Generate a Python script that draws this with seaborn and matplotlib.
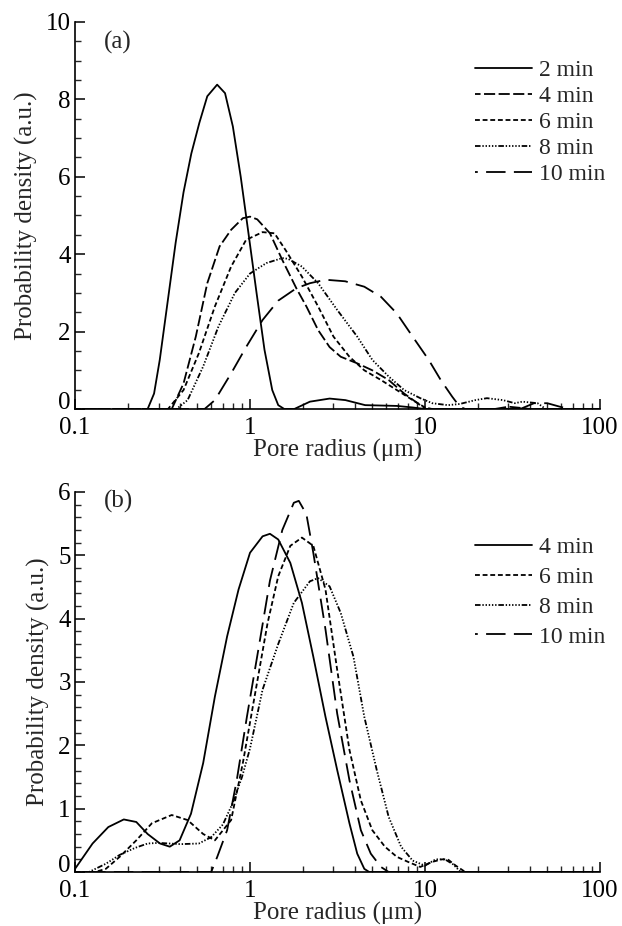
import numpy as np
import pandas as pd
import matplotlib
matplotlib.use("Agg")
import matplotlib.pyplot as plt
import seaborn as sns
from matplotlib.ticker import (FixedLocator, FixedFormatter, MultipleLocator,
                               NullFormatter, LogLocator, FuncFormatter)

# ---------------- panel (a) ----------------
a_2min_x = [0.26, 0.283, 0.305, 0.339, 0.376, 0.417, 0.462, 0.514, 0.57, 0.649, 0.72, 0.798,
            0.885, 0.98, 1.09, 1.21, 1.34, 1.45, 1.57, 1.79, 2.2, 2.85, 3.51, 4.55, 6.9, 8.5, 10.0, 100.0]
a_2min_y = [0.0, 0.4, 1.27, 2.8, 4.3, 5.6, 6.6, 7.4, 8.08, 8.38, 8.16, 7.3,
            6.0, 4.54, 3.0, 1.53, 0.49, 0.1, 0.0, 0.0, 0.19, 0.27, 0.23, 0.1, 0.08, 0.04, 0.0, 0.0]

a_4min_x = [0.1, 0.357, 0.417, 0.49, 0.57, 0.67, 0.78, 0.91, 1.0, 1.1, 1.3, 1.53, 1.84, 2.1,
            2.45, 2.85, 3.3, 4.1, 5.0, 6.2, 7.6, 9.4, 10.1, 25.0, 30.0, 35.0, 40.0]
a_4min_y = [0.0, 0.0, 0.66, 1.87, 3.25, 4.2, 4.63, 4.93, 4.97, 4.9, 4.54, 3.85, 3.12, 2.65,
            2.04, 1.6, 1.35, 1.18, 1.0, 0.75, 0.4, 0.1, 0.0, 0.0, 0.06, 0.03, 0.0]

a_6min_x = [0.1, 0.34, 0.417, 0.51, 0.63, 0.78, 0.95, 1.18, 1.38, 1.6, 1.98, 2.45, 3.0, 3.7,
            4.5, 5.6, 6.9, 8.5, 10.0, 11.0, 100.0]
a_6min_y = [0.0, 0.0, 0.49, 1.44, 2.65, 3.68, 4.37, 4.57, 4.54, 4.1, 3.42, 2.65, 1.87, 1.35,
            1.0, 0.75, 0.49, 0.23, 0.04, 0.0, 0.0]

a_8min_x = [0.1, 0.38, 0.44, 0.54, 0.66, 0.82, 1.0, 1.24, 1.53, 1.65, 1.98, 2.45, 3.15, 4.1,
            5.0, 6.2, 7.6, 9.4, 11.0, 13.5, 15.8, 19.4, 22.6, 27.9, 32.6, 36.0, 44.0, 49.0, 100.0]
a_8min_y = [0.0, 0.0, 0.23, 1.1, 2.13, 3.0, 3.5, 3.77, 3.9, 3.88, 3.68, 3.25, 2.56, 1.87,
            1.27, 0.84, 0.49, 0.28, 0.15, 0.1, 0.13, 0.23, 0.28, 0.23, 0.15, 0.19, 0.15, 0.0, 0.0]

a_10min_x = [0.1, 0.55, 0.63, 0.78, 0.95, 1.18, 1.45, 1.84, 2.2, 2.7, 3.5, 4.5, 5.6, 6.9, 8.5,
             10.5, 12.3, 14.3, 15.8, 17.0, 35.0, 42.0, 50.0, 60.0, 70.0, 100.0]
a_10min_y = [0.0, 0.0, 0.23, 0.92, 1.6, 2.3, 2.8, 3.12, 3.25, 3.34, 3.3, 3.16, 2.9, 2.47, 1.87,
             1.27, 0.75, 0.32, 0.06, 0.0, 0.0, 0.15, 0.15, 0.05, 0.0, 0.0]

# ---------------- panel (b) ----------------
b_4min_x = [0.1, 0.126, 0.155, 0.19, 0.224, 0.26, 0.306, 0.348, 0.396, 0.46, 0.54, 0.63, 0.74,
            0.86, 1.0, 1.18, 1.3, 1.45, 1.7, 1.98, 2.3, 2.7, 3.15, 3.7, 4.1, 4.5, 4.8, 100.0]
b_4min_y = [0.05, 0.45, 0.71, 0.83, 0.79, 0.6, 0.45, 0.4, 0.5, 0.92, 1.72, 2.77, 3.72,
            4.46, 5.04, 5.3, 5.34, 5.25, 4.88, 4.25, 3.4, 2.45, 1.61, 0.77, 0.29, 0.05, 0.0, 0.0]

b_6min_x = [0.1, 0.13, 0.15, 0.18, 0.224, 0.275, 0.357, 0.44, 0.54, 0.63, 0.78, 0.91, 1.07, 1.26,
            1.45, 1.7, 1.98, 2.3, 2.7, 3.15, 3.7, 4.3, 5.0, 5.9, 6.9, 8.0, 9.4, 11.0, 12.5,
            13.5, 15.0, 17.0, 100.0]
b_6min_y = [0.0, 0.0, 0.05, 0.24, 0.5, 0.77, 0.9, 0.82, 0.6, 0.5, 0.82, 1.72, 2.82, 3.93,
            4.67, 5.15, 5.28, 5.15, 4.46, 3.19, 1.93, 1.13, 0.66, 0.4, 0.24, 0.16, 0.08, 0.16, 0.2,
            0.2, 0.1, 0.0, 0.0]

b_8min_x = [0.1, 0.12, 0.15, 0.18, 0.22, 0.26, 0.3, 0.4, 0.51, 0.6, 0.7, 0.8, 0.9, 1.0, 1.18,
            1.45, 1.78, 2.2, 2.45, 2.85, 3.3, 3.9, 4.5, 5.3, 6.2, 7.3, 8.5, 10.0, 11.5, 13.0,
            14.5, 16.0, 100.0]
b_8min_y = [0.0, 0.0, 0.13, 0.27, 0.38, 0.45, 0.46, 0.44, 0.45, 0.55, 0.75, 1.1, 1.5, 1.95, 2.88,
            3.6, 4.25, 4.59, 4.64, 4.51, 4.09, 3.4, 2.45, 1.61, 0.87, 0.4, 0.18, 0.1, 0.2, 0.2,
            0.12, 0.0, 0.0]

b_10min_x = [0.1, 0.6, 0.65, 0.74, 0.84, 0.96, 1.13, 1.3, 1.53, 1.78, 1.9, 2.1, 2.3, 2.7, 3.15,
             3.7, 4.3, 4.9, 5.6, 6.2, 100.0]
b_10min_y = [0.0, 0.0, 0.24, 0.66, 1.45, 2.45, 3.6, 4.6, 5.4, 5.83, 5.86, 5.65, 5.04, 3.83, 2.5,
             1.45, 0.66, 0.29, 0.08, 0.0, 0.0]

labels_a = ["2 min", "4 min", "6 min", "8 min", "10 min"]
labels_b = ["4 min", "6 min", "8 min", "10 min"]

# dash patterns in points (offset, on/off sequence)
DOTTED_LONG = (4, 1.3, 1, 1.3, 1, 1.3, 1, 1.3, 1, 1.3, 1, 1.3)
styles_a = {
    "2 min": None,
    "4 min": (4, (8, 2.5)),
    "6 min": (0, (3.5, 2.0)),
    "8 min": (0, DOTTED_LONG),
    "10 min": (12, (14, 6)),
}
styles_b = {
    "4 min": None,
    "6 min": (0, (3.5, 2.0)),
    "8 min": (0, DOTTED_LONG),
    "10 min": (12, (14, 6)),
}


def build_frame(series):
    frames = []
    for name, xs, ys in series:
        frames.append(pd.DataFrame({"radius": xs, "density": ys, "time": name}))
    return pd.concat(frames, ignore_index=True)


df_a = build_frame([
    ("2 min", a_2min_x, a_2min_y),
    ("4 min", a_4min_x, a_4min_y),
    ("6 min", a_6min_x, a_6min_y),
    ("8 min", a_8min_x, a_8min_y),
    ("10 min", a_10min_x, a_10min_y),
])
df_b = build_frame([
    ("4 min", b_4min_x, b_4min_y),
    ("6 min", b_6min_x, b_6min_y),
    ("8 min", b_8min_x, b_8min_y),
    ("10 min", b_10min_x, b_10min_y),
])

sns.set_theme(style="ticks")
plt.rcParams["font.family"] = ["Liberation Serif", "DejaVu Serif"]
plt.rcParams["lines.scale_dashes"] = False

FS_TICK = 18
FS_LABEL = 18
FS_LEG = 17

fig = plt.figure(figsize=(6.22, 9.26), dpi=100)
ax_a = fig.add_axes([0.1206, 0.5583, 0.844, 0.418])
ax_b = fig.add_axes([0.1206, 0.0583, 0.844, 0.4104])


def y_tick_text(v, pos):
    # the origin "0" is written separately, slightly raised above the x labels
    return "" if abs(v) < 1e-9 else f"{v:g}"


def draw_panel(ax, df, labels, styles, ymax, ymajor, yminor, tag, tag_y,
               leg_top, label_spacing):
    for name in labels:
        sub = df[df["time"] == name]
        sns.lineplot(data=sub, x="radius", y="density", color="black",
                     linewidth=1.3, sort=False, estimator=None, ax=ax, label=name)
        line = ax.get_lines()[-1]
        if styles[name] is None:
            line.set_linestyle("-")
        else:
            line.set_linestyle(styles[name])
    ax.set_xscale("log")
    ax.set_xlim(0.1, 100)
    ax.set_ylim(0, ymax)
    ax.xaxis.set_major_locator(FixedLocator([0.1, 1, 10, 100]))
    ax.xaxis.set_major_formatter(FixedFormatter(["0.1", "1", "10", "100"]))
    ax.xaxis.set_minor_locator(LogLocator(base=10, subs=np.arange(2, 10), numticks=20))
    ax.xaxis.set_minor_formatter(NullFormatter())
    ax.yaxis.set_major_locator(MultipleLocator(ymajor))
    ax.yaxis.set_major_formatter(FuncFormatter(y_tick_text))
    ax.yaxis.set_minor_locator(MultipleLocator(yminor))
    ax.tick_params(which="major", direction="in", length=7, width=1.1,
                   labelsize=FS_TICK, colors="black")
    ax.tick_params(which="minor", direction="in", length=4, width=1.0)
    ax.tick_params(axis="x", which="major", pad=6)
    ax.tick_params(axis="y", which="major", pad=3)
    ax.annotate("0", xy=(0, 0), xycoords="axes fraction", xytext=(-3.5, 4.5),
                textcoords="offset points", ha="right", va="center",
                fontsize=FS_TICK, color="black")
    for side in ("top", "right"):
        ax.spines[side].set_visible(False)
    for side in ("left", "bottom"):
        ax.spines[side].set_linewidth(1.2)
        ax.spines[side].set_color("black")
    ax.set_xlabel("Pore radius (μm)", fontsize=FS_LABEL, labelpad=0)
    ax.set_ylabel("Probability density (a.u.)", fontsize=FS_LABEL, labelpad=6)
    ax.text(0.055, tag_y, tag, transform=ax.transAxes, fontsize=FS_LABEL,
            va="center", ha="left")
    handles = ax.get_lines()[:len(labels)]
    ax.legend(handles, labels, loc="upper right", bbox_to_anchor=(1.01, leg_top),
              frameon=False, fontsize=FS_LEG, handlelength=2.4, handletextpad=0.3,
              labelspacing=label_spacing, borderaxespad=0.0, borderpad=0.0)


draw_panel(ax_a, df_a, labels_a, styles_a, 10, 2, 0.5, "(a)", 0.948, 0.902, 0.19)
draw_panel(ax_b, df_b, labels_b, styles_b, 6, 1, 0.2, "(b)", 0.975, 0.882, 0.35)

fig.savefig("out.png", dpi=100, facecolor="white")
